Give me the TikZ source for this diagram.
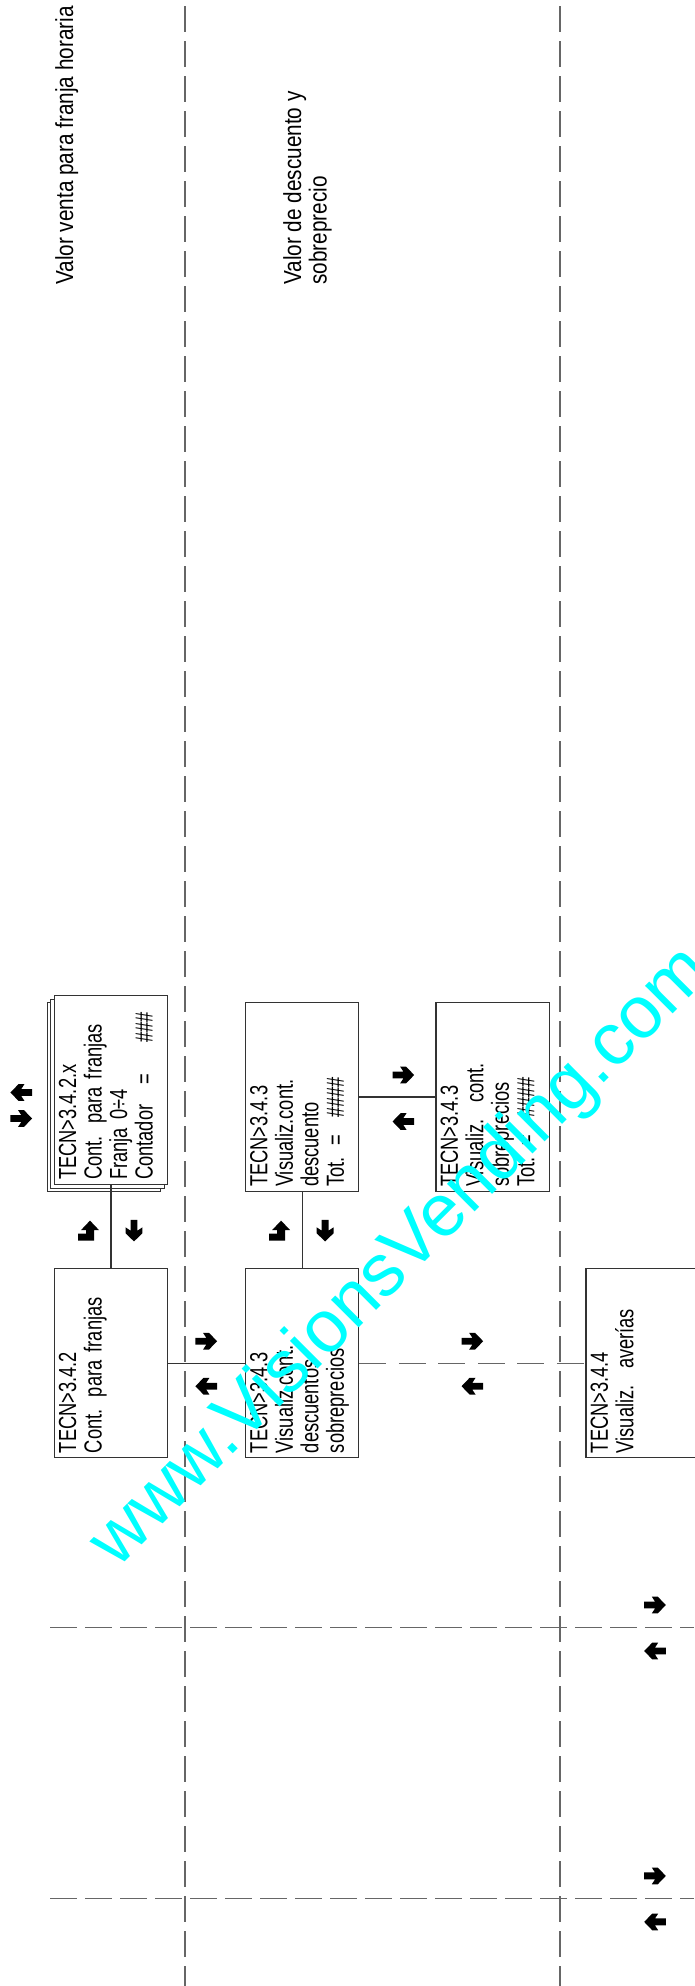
\documentclass[tikz,border=0pt]{standalone}
\usepackage{fontspec}
\setmainfont{Liberation Sans}
\newfontfamily\cadfont[FakeStretch=0.74]{Liberation Sans}
\newfontfamily\notefont[FakeStretch=0.84]{Liberation Sans}
\usetikzlibrary{positioning, shadows}
\definecolor{markcyan}{RGB}{0,255,255}

\begin{document}
\begin{tikzpicture}[
    x=1pt, y=1pt,
    node distance=76pt,
    menu/.style={rectangle, draw=black!80, fill=white, line width=1.2pt, minimum width=113.3pt, minimum height=189pt, inner sep=0pt},
    stack/.style={menu,
        copy shadow={shadow xshift=-7pt, shadow yshift=-7pt, draw=black!80, fill=white, line width=1pt},
        copy shadow={shadow xshift=-3.5pt, shadow yshift=-3.5pt, draw=black!80, fill=white, line width=1pt}},
    menutext/.style={rotate=90, anchor=north west, align=left, text width=179pt, inner sep=0pt, font={\cadfont\fontsize{24.7pt}{25.5pt}\selectfont}},
    note/.style={rotate=90, anchor=north west, align=left, inner sep=0pt, font={\notefont\fontsize{24.7pt}{25.5pt}\selectfont}},
    link/.style={draw=black!80, line width=1.2pt},
    guide/.style={draw=black!60, line width=1.2pt, dash pattern=on 26pt off 9pt},
    arrowglyph/.pic={\fill[scale=1.08] (-10,-3.2) -- (0,-3.2) -- (-3,-7.8) -- (2.5,-7.8) -- (10,0) -- (2.5,7.8) -- (-3,7.8) -- (0,3.2) -- (-10,3.2) -- cycle;},
    hookglyph/.pic={\fill (1.5,10) -- (10.5,0.5) -- (5.5,0.5) -- (5.5,-10) -- (-10.5,-10) -- (-10.5,-3) -- (-2.5,-3) -- (-2.5,0.5) -- (-7.5,0.5) -- cycle;}
]
    \useasboundingbox (0,0) rectangle (694,-1986);

    \coordinate (g1t) at (185,-6);
    \coordinate (g1b) at (185,-1986);
    \coordinate (g2t) at (560,-6);
    \coordinate (g2b) at (560,-1986);
    \coordinate (h1w) at (50,-1627.5);
    \coordinate (h1e) at (694,-1627.5);
    \coordinate (h2w) at (50,-1898.4);
    \coordinate (h2e) at (694,-1898.4);

    \draw[guide] (g1t) -- (g1b);
    \draw[guide] (g2t) -- (g2b);
    \draw[guide, dash pattern=on 27pt off 8pt] (h1w) -- (h1e);
    \draw[guide, dash pattern=on 27pt off 8pt] (h2w) -- (h2e);

    \node[note] (lblventa) at (55,-285) {Valor venta para franja horaria};
    \node[note] (lbldesc) at (283,-285) {Valor de descuento y\\sobreprecio};

    \node[menu] (b342) at (111,-1363.2) {};
    \node[stack, above=83pt of b342] (b342x) {};
    \node[menu, right=76.6pt of b342] (b343) {};
    \node[menu, above=of b343] (b343a) {};
    \node[menu, right=of b343a] (b343b) {};
    \node[menu, right=226pt of b343] (b344) {};

    \node[menutext] (t342) at ([shift={(5,5)}]b342.south west) {TECN>3.4.2\\Cont. para franjas};
    \node[menutext, text width=168pt] (t342x) at ([shift={(5,5)}]b342x.south west) {TECN>3.4.2.x\\Cont. para franjas\\Franja 0÷4\\Contador\hspace{20pt}=\hfill\#\#\#};
    \node[menutext] (t343) at ([shift={(5,5)}]b343.south west) {TECN>3.4.3\\Visualiz.cont.\\descuentos\\sobreprecios};
    \node[menutext] (t343a) at ([shift={(5,5)}]b343a.south west) {TECN>3.4.3\\Visualiz.cont.\\descuento\\Tot. =\ \ \#\#\#\#};
    \node[menutext] (t343b) at ([shift={(5,5)}]b343b.south west) {TECN>3.4.3\\Visualiz.\ \ cont.\\sobreprecios\\Tot. =\ \ \#\#\#\#};
    \node[menutext] (t344) at ([shift={(5,5)}]b344.south west) {TECN>3.4.4\\Visualiz.\ \ averías};

    \draw[link] (b342x) -- (b342);
    \draw[link] (b342) -- (b343);
    \draw[link] (b343) -- (b343a);
    \draw[link] (b343a) -- (b343b);
    \draw[link, draw=black!60, dash pattern=on 27pt off 12.5pt] (b343) -- (b344);

    \pic[rotate=180] at ([shift={(-32.5,-2.5)}]b342x.west) {arrowglyph};
    \pic at ([shift={(-32.5,-28.5)}]b342x.west) {arrowglyph};
    \pic at ([shift={(-22.5,37.5)}]b342.north) {hookglyph};
    \pic[rotate=-90] at ([shift={(23,37.5)}]b342.north) {arrowglyph};
    \pic at ([shift={(-22.5,37.5)}]b343.north) {hookglyph};
    \pic[rotate=-90] at ([shift={(23,37.5)}]b343.north) {arrowglyph};
    \pic at ([shift={(38,22)}]b342.east) {arrowglyph};
    \pic[rotate=180] at ([shift={(38,-23)}]b342.east) {arrowglyph};
    \pic at ([shift={(44,22)}]b343a.east) {arrowglyph};
    \pic[rotate=180] at ([shift={(44,-24.5)}]b343a.east) {arrowglyph};
    \pic at ([shift={(113,22)}]b343.east) {arrowglyph};
    \pic[rotate=180] at ([shift={(113,-23)}]b343.east) {arrowglyph};
    \pic at ([shift={(-39,22.5)}]h1e) {arrowglyph};
    \pic[rotate=180] at ([shift={(-39,-23.5)}]h1e) {arrowglyph};
    \pic at ([shift={(-39,22.5)}]h2e) {arrowglyph};
    \pic[rotate=180] at ([shift={(-39,-23.5)}]h2e) {arrowglyph};

    \node[rotate=45, text=markcyan, inner sep=0pt, font={\fontsize{74pt}{74pt}\selectfont}] (mark) at (402,-1258) {www.VisionsVending.com};
\end{tikzpicture}
\end{document}
